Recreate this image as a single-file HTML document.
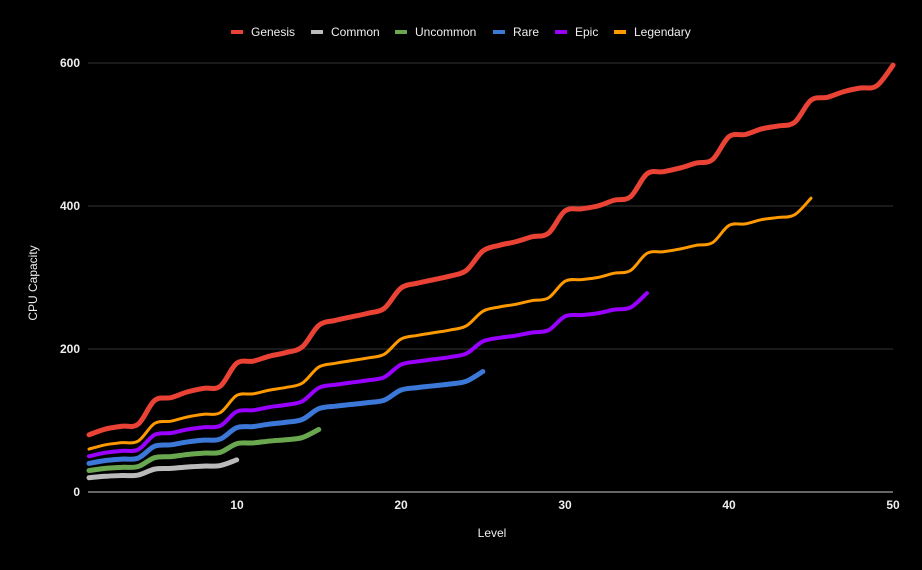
<!DOCTYPE html>
<html><head><meta charset="utf-8"><style>
html,body{margin:0;padding:0;background:#000;}
svg{display:block;font-family:"Liberation Sans",Arial,sans-serif;}
</style></head><body>
<svg id="s" width="922" height="570" xmlns="http://www.w3.org/2000/svg">
<rect width="922" height="570" fill="#000"/>
<line x1="88" x2="893" y1="63" y2="63" stroke="#333" stroke-width="1"/>
<line x1="88" x2="893" y1="206" y2="206" stroke="#333" stroke-width="1"/>
<line x1="88" x2="893" y1="349" y2="349" stroke="#333" stroke-width="1"/>
<line x1="88" x2="893" y1="492" y2="492" stroke="#ccc" stroke-width="1"/>
<g fill="#eee" font-size="12" text-anchor="end" font-weight="bold">
<text x="80" y="67">600</text><text x="80" y="210">400</text><text x="80" y="353">200</text><text x="80" y="496">0</text>
</g>
<g fill="#eee" font-size="12" text-anchor="middle" font-weight="bold">
<text x="237" y="509">10</text><text x="401" y="509">20</text><text x="565" y="509">30</text><text x="729" y="509">40</text><text x="893" y="509">50</text>
</g>
<text x="492" y="537" fill="#eee" font-size="12" text-anchor="middle">Level</text>
<text transform="translate(37,283) rotate(-90)" fill="#eee" font-size="12" text-anchor="middle">CPU Capacity</text>
<g font-size="12" fill="#eee">
<rect x="231" y="30" width="12" height="4" fill="#ea4335"/><text x="251" y="36">Genesis</text>
<rect x="311" y="30" width="12" height="4" fill="#bbb"/><text x="331" y="36">Common</text>
<rect x="395" y="30" width="12" height="4" fill="#6aa84f"/><text x="415" y="36">Uncommon</text>
<rect x="493" y="30" width="12" height="4" fill="#3c78d8"/><text x="513" y="36">Rare</text>
<rect x="555" y="30" width="12" height="4" fill="#9900ff"/><text x="575" y="36">Epic</text>
<rect x="614" y="30" width="12" height="4" fill="#ff9900"/><text x="634" y="36">Legendary</text>
</g>
<g id="lines" fill="none" stroke-linecap="round" stroke-linejoin="round"></g>
</svg>
<script>
var G=[80,88,92,95,128,132,140,145,148,180,183,190,195,203,233,240,245,250,257,285,292,297,302,310,337,345,350,357,362,393,396,400,408,413,445,448,453,460,465,497,500,508,512,517,548,552,560,565,568,597];
var series=[[0.25,10,"#bbb",5],[0.375,15,"#6aa84f",5],[0.5,25,"#3c78d8",5],[0.625,35,"#9900ff",4],[0.75,45,"#ff9900",3],[1,50,"#ea4335",5]];
var g=document.getElementById('lines');
series.forEach(function(s){
 var p=[];for(var i=0;i<s[1];i++){p.push([89+i*16.41,492-G[i]*s[0]*0.715]);}
 var d="M"+p[0][0]+","+p[0][1];
 for(var i=0;i<p.length-1;i++){
  var p0=p[Math.max(0,i-1)],p1=p[i],p2=p[i+1],p3=p[Math.min(p.length-1,i+2)];
  var t=0.5/3;
  var c1=[p1[0]+(p2[0]-p0[0])*t,p1[1]+(p2[1]-p0[1])*t];
  var c2=[p2[0]-(p3[0]-p1[0])*t,p2[1]-(p3[1]-p1[1])*t];
  d+=" C"+c1+" "+c2+" "+p2;
 }
 var e=document.createElementNS("http://www.w3.org/2000/svg","path");
 e.setAttribute("d",d);e.setAttribute("stroke",s[2]);e.setAttribute("stroke-width",s[3]);
 g.appendChild(e);
});
</script>
</body></html>
